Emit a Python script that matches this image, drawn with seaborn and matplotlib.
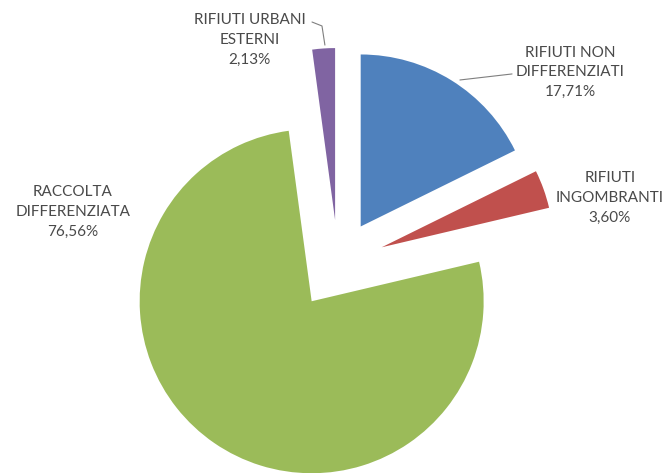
import matplotlib
matplotlib.use("Agg")
import matplotlib.pyplot as plt
import seaborn as sns

categories = ["RIFIUTI NON\nDIFFERENZIATI", "RIFIUTI\nINGOMBRANTI",
              "RACCOLTA\nDIFFERENZIATA", "RIFIUTI URBANI\nESTERNI"]
shares = [17.71, 3.60, 76.56, 2.13]
share_labels = ["17,71%", "3,60%", "76,56%", "2,13%"]
colors = ["#4F81BD", "#C0504D", "#9BBB59", "#8064A2"]

sns.set_theme(style="white")
plt.rcParams["font.family"] = ["Lato", "DejaVu Sans"]

fig = plt.figure(figsize=(6.72, 4.73), dpi=100)
ax = fig.add_axes([0, 0, 1, 1])

ax.pie(shares, colors=colors, startangle=90, counterclock=False,
       explode=[0.25, 0.27, 0.27, 0.25], radius=1.0,
       wedgeprops=dict(linewidth=0))

# label positions (data units, pie radius = 1)
label_pos = [(1.349, 1.110), (1.581, 0.378), (-1.541, 0.297), (-0.512, 1.297)]
for cat, lab, (x, y) in zip(categories, share_labels, label_pos):
    ax.text(x, y, f"{cat}\n{lab}", ha="center", va="center", fontsize=11,
            color="#4a4a4a", linespacing=1.5)

# leader lines
ax.plot([0.709, 1.012], [1.064, 1.099], color="#7f7f7f", lw=0.8)
ax.plot([-0.151, -0.093, -0.076], [1.401, 1.378, 1.267], color="#7f7f7f", lw=0.8)

ax.set_xlim(-1.965, 1.942)
ax.set_ylim(-1.221, 1.529)
ax.set_aspect("auto")
ax.axis("off")

fig.savefig("out.png", dpi=100, facecolor="white")
